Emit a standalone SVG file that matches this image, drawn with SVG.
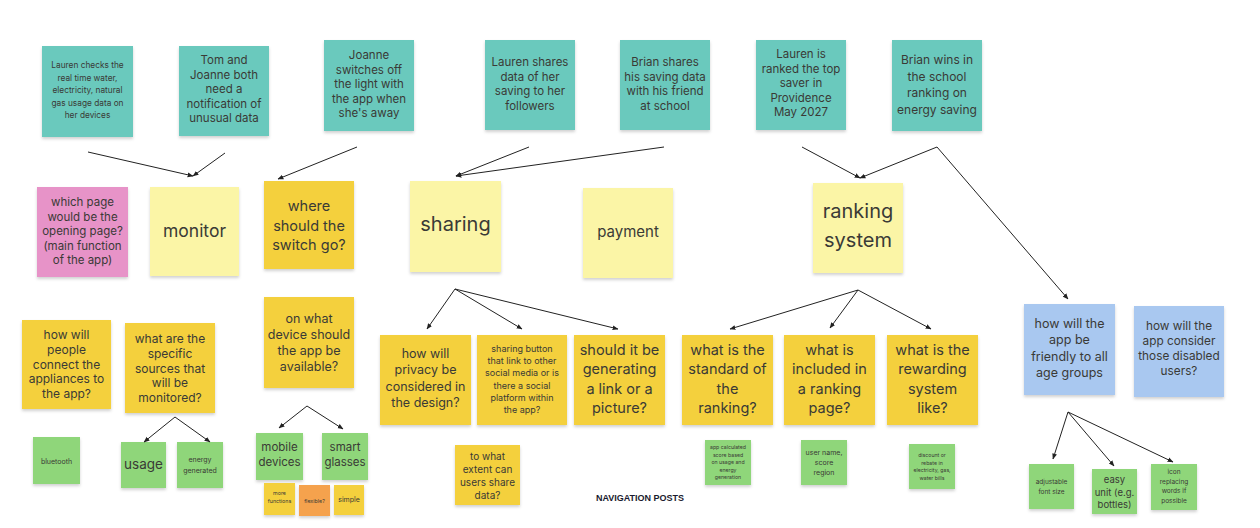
<svg xmlns="http://www.w3.org/2000/svg" width="1260" height="528" viewBox="0 0 1260 528">
<defs>
<marker id="ah" viewBox="0 0 10 10" refX="9" refY="5" markerWidth="6" markerHeight="6" orient="auto" markerUnits="userSpaceOnUse">
<path d="M0,1 L10,5 L0,9 z" fill="#222"/>
</marker>
<filter id="sh" x="-10%" y="-10%" width="120%" height="125%">
<feDropShadow dx="0" dy="2" stdDeviation="1.5" flood-color="#000" flood-opacity="0.18"/>
</filter>
</defs>
<style>
text{font-family:Inter,"Open Sans","Liberation Sans",sans-serif;fill:#3a3a36;text-anchor:middle;dominant-baseline:central}
.n{filter:url(#sh)}
.teal{fill:#6bc9bd}
.pink{fill:#e793c8}
.pale{fill:#fbf5a6}
.yel{fill:#f4d03c}
.grn{fill:#8fd67a}
.blu{fill:#a9c8f0}
.org{fill:#f5a24e}
.c line{stroke:#222;stroke-width:1;fill:none;marker-end:url(#ah)}
</style>
<rect width="1260" height="528" fill="#fff"/>

<g id="n1"><rect class="n teal" x="42" y="46" width="91" height="91"/>
<text font-size="8.3"><tspan x="87.5" y="65">Lauren checks the</tspan><tspan x="87.5" y="78">real time water,</tspan><tspan x="87.5" y="90">electricity, natural</tspan><tspan x="87.5" y="103">gas usage data on</tspan><tspan x="87.5" y="115">her devices</tspan></text></g>
<g id="n2"><rect class="n teal" x="179" y="46" width="90" height="90"/>
<text font-size="11.5"><tspan x="224" y="60">Tom and</tspan><tspan x="224" y="74.5">Joanne both</tspan><tspan x="224" y="89">need a</tspan><tspan x="224" y="103.5">notification of</tspan><tspan x="224" y="118">unusual data</tspan></text></g>
<g id="n3"><rect class="n teal" x="324" y="40" width="90" height="91"/>
<text font-size="11.5"><tspan x="369" y="55">Joanne</tspan><tspan x="369" y="69.5">switches off</tspan><tspan x="369" y="84">the light with</tspan><tspan x="369" y="98.5">the app when</tspan><tspan x="369" y="113">she's away</tspan></text></g>
<g id="n4"><rect class="n teal" x="485" y="40" width="90" height="90"/>
<text font-size="11.5"><tspan x="530" y="62">Lauren shares</tspan><tspan x="530" y="76.5">data of her</tspan><tspan x="530" y="91">saving to her</tspan><tspan x="530" y="105.5">followers</tspan></text></g>
<g id="n5"><rect class="n teal" x="620" y="40" width="90" height="90"/>
<text font-size="11.5"><tspan x="665" y="62">Brian  shares</tspan><tspan x="665" y="76.5">his saving data</tspan><tspan x="665" y="91">with his friend</tspan><tspan x="665" y="105.5">at school</tspan></text></g>
<g id="n6"><rect class="n teal" x="756" y="40" width="90" height="90"/>
<text font-size="11.5"><tspan x="801" y="54">Lauren is</tspan><tspan x="801" y="68.5">ranked the top</tspan><tspan x="801" y="83">saver in</tspan><tspan x="801" y="97.5">Providence</tspan><tspan x="801" y="112">May 2027</tspan></text></g>
<g id="n7"><rect class="n teal" x="892" y="40" width="90" height="91"/>
<text font-size="12"><tspan x="937" y="59">Brian wins in</tspan><tspan x="937" y="75.5">the school</tspan><tspan x="937" y="92">ranking on</tspan><tspan x="937" y="108.5">energy saving</tspan></text></g>

<g id="p1"><rect class="n pink" x="37" y="187" width="91" height="90"/>
<text font-size="11.5"><tspan x="82.5" y="202">which page</tspan><tspan x="82.5" y="216.5">would be the</tspan><tspan x="82.5" y="231">opening page?</tspan><tspan x="82.5" y="245.5">(main function</tspan><tspan x="82.5" y="260">of the app)</tspan></text></g>
<g id="monitor"><rect class="n pale" x="150" y="187" width="89" height="89"/>
<text font-size="17.5" x="194.5" y="230">monitor</text></g>
<g id="switch"><rect class="n yel" x="264" y="181" width="90" height="88"/>
<text font-size="14.5"><tspan x="309" y="205">where</tspan><tspan x="309" y="224.5">should the</tspan><tspan x="309" y="244">switch go?</tspan></text></g>
<g id="sharing"><rect class="n pale" x="410" y="181" width="91" height="91"/>
<text font-size="20" x="455.5" y="224">sharing</text></g>
<g id="payment"><rect class="n pale" x="583" y="188" width="90" height="90"/>
<text font-size="15" x="628" y="231">payment</text></g>
<g id="ranking"><rect class="n pale" x="813" y="183" width="90" height="90"/>
<text font-size="20"><tspan x="858" y="211">ranking</tspan><tspan x="858" y="240">system</tspan></text></g>

<g id="q1"><rect class="n yel" x="22" y="320" width="89" height="89"/>
<text font-size="12"><tspan x="66.5" y="334">how will</tspan><tspan x="66.5" y="348.8">people</tspan><tspan x="66.5" y="363.6">connect the</tspan><tspan x="66.5" y="378.4">appliances to</tspan><tspan x="66.5" y="393.2">the app?</tspan></text></g>
<g id="q2"><rect class="n yel" x="125" y="323" width="90" height="90"/>
<text font-size="12"><tspan x="170" y="338">what are the</tspan><tspan x="170" y="352.8">specific</tspan><tspan x="170" y="367.6">sources that</tspan><tspan x="170" y="382.4">will be</tspan><tspan x="170" y="397.2">monitored?</tspan></text></g>
<g id="q3"><rect class="n yel" x="264" y="297" width="90" height="91"/>
<text font-size="12.5"><tspan x="309" y="318">on what</tspan><tspan x="309" y="334">device should</tspan><tspan x="309" y="350">the app be</tspan><tspan x="309" y="366">available?</tspan></text></g>
<g id="q4"><rect class="n yel" x="380" y="335" width="91" height="90"/>
<text font-size="12.5"><tspan x="425.5" y="353">how will</tspan><tspan x="425.5" y="369.3">privacy be</tspan><tspan x="425.5" y="385.6">considered in</tspan><tspan x="425.5" y="402">the design?</tspan></text></g>
<g id="q5"><rect class="n yel" x="477" y="335" width="90" height="90"/>
<text font-size="9"><tspan x="522" y="348">sharing button</tspan><tspan x="522" y="360.2">that link to other</tspan><tspan x="522" y="372.4">social media or is</tspan><tspan x="522" y="384.6">there a social</tspan><tspan x="522" y="396.8">platform within</tspan><tspan x="522" y="409">the app?</tspan></text></g>
<g id="q6"><rect class="n yel" x="574" y="335" width="91" height="90"/>
<text font-size="14.5"><tspan x="619.5" y="349">should it be</tspan><tspan x="619.5" y="368.3">generating</tspan><tspan x="619.5" y="387.6">a link or a</tspan><tspan x="619.5" y="407">picture?</tspan></text></g>
<g id="q7"><rect class="n yel" x="682" y="335" width="91" height="90"/>
<text font-size="14.5"><tspan x="727.5" y="349">what is the</tspan><tspan x="727.5" y="368.3">standard of</tspan><tspan x="727.5" y="387.6">the</tspan><tspan x="727.5" y="407">ranking?</tspan></text></g>
<g id="q8"><rect class="n yel" x="784" y="335" width="91" height="90"/>
<text font-size="14.5"><tspan x="829.5" y="349">what is</tspan><tspan x="829.5" y="368.3">included in</tspan><tspan x="829.5" y="387.6">a ranking</tspan><tspan x="829.5" y="407">page?</tspan></text></g>
<g id="q9"><rect class="n yel" x="887" y="335" width="91" height="90"/>
<text font-size="14.5"><tspan x="932.5" y="349">what is the</tspan><tspan x="932.5" y="368.3">rewarding</tspan><tspan x="932.5" y="387.6">system</tspan><tspan x="932.5" y="407">like?</tspan></text></g>
<g id="b1"><rect class="n blu" x="1024" y="304" width="91" height="91"/>
<text font-size="12.5"><tspan x="1069.5" y="323">how will the</tspan><tspan x="1069.5" y="339.3">app be</tspan><tspan x="1069.5" y="355.6">friendly to all</tspan><tspan x="1069.5" y="372">age groups</tspan></text></g>
<g id="b2"><rect class="n blu" x="1134" y="306" width="90" height="91"/>
<text font-size="11.8"><tspan x="1179" y="326">how will the</tspan><tspan x="1179" y="341">app consider</tspan><tspan x="1179" y="356">those disabled</tspan><tspan x="1179" y="371">users?</tspan></text></g>

<g id="g1"><rect class="n grn" x="33" y="437" width="47" height="47"/>
<text font-size="7" x="56.5" y="461">bluetooth</text></g>
<g id="g2"><rect class="n grn" x="121" y="442" width="45" height="46"/>
<text font-size="13.5" x="143.5" y="464">usage</text></g>
<g id="g3"><rect class="n grn" x="177" y="442" width="46" height="46"/>
<text font-size="7"><tspan x="200" y="459">energy</tspan><tspan x="200" y="470">generated</tspan></text></g>
<g id="g4"><rect class="n grn" x="256" y="433" width="47" height="47"/>
<text font-size="11.5"><tspan x="279.5" y="447">mobile</tspan><tspan x="279.5" y="462">devices</tspan></text></g>
<g id="g5"><rect class="n grn" x="322" y="433" width="46" height="47"/>
<text font-size="11.5"><tspan x="345" y="447">smart</tspan><tspan x="345" y="462">glasses</tspan></text></g>
<g id="s1"><rect class="n yel" x="264" y="483" width="31" height="32"/>
<text font-size="5.3"><tspan x="279.5" y="493">more</tspan><tspan x="279.5" y="501">functions</tspan></text></g>
<g id="s2"><rect class="n org" x="299" y="485" width="31" height="31"/>
<text font-size="5.3" x="314.5" y="501">flexible?</text></g>
<g id="s3"><rect class="n yel" x="334" y="485" width="30" height="30"/>
<text font-size="7" x="349" y="499">simple</text></g>
<g id="y1"><rect class="n yel" x="455" y="445" width="65" height="60"/>
<text font-size="10"><tspan x="487.5" y="456">to what</tspan><tspan x="487.5" y="469">extent can</tspan><tspan x="487.5" y="482">users share</tspan><tspan x="487.5" y="495">data?</tspan></text></g>
<g id="g6"><rect class="n grn" x="705" y="440" width="46" height="45"/>
<text font-size="5.2"><tspan x="728" y="447">app calculated</tspan><tspan x="728" y="454.5">score based</tspan><tspan x="728" y="462">on usage and</tspan><tspan x="728" y="469.5">energy</tspan><tspan x="728" y="477">generation</tspan></text></g>
<g id="g7"><rect class="n grn" x="801" y="440" width="46" height="45"/>
<text font-size="7"><tspan x="824" y="452">user name,</tspan><tspan x="824" y="462">score</tspan><tspan x="824" y="472">region</tspan></text></g>
<g id="g8"><rect class="n grn" x="909" y="444" width="46" height="45"/>
<text font-size="5.2"><tspan x="932" y="455">discount or</tspan><tspan x="932" y="462.5">rebate in</tspan><tspan x="932" y="470">electricity, gas,</tspan><tspan x="932" y="477.5">water bills</tspan></text></g>
<g id="g9"><rect class="n grn" x="1029" y="464" width="45" height="45"/>
<text font-size="6.5"><tspan x="1051.5" y="482">adjustable</tspan><tspan x="1051.5" y="492">font size</tspan></text></g>
<g id="g10"><rect class="n grn" x="1092" y="469" width="45" height="45"/>
<text font-size="9.5"><tspan x="1114.5" y="479">easy</tspan><tspan x="1114.5" y="491.5">unit (e.g.</tspan><tspan x="1114.5" y="504">bottles)</tspan></text></g>
<g id="g11"><rect class="n grn" x="1151" y="464" width="46" height="46"/>
<text font-size="6.5"><tspan x="1174" y="472">icon</tspan><tspan x="1174" y="481.7">replacing</tspan><tspan x="1174" y="491.4">words if</tspan><tspan x="1174" y="501">possible</tspan></text></g>

<text id="title" x="640" y="498" font-size="9" font-weight="bold" style="font-family:'Liberation Sans',Arial,sans-serif;fill:#1a1a2e">NAVIGATION POSTS</text>

<g id="connectors" class="c">
<line x1="88" y1="152" x2="193" y2="176"/>
<line x1="225" y1="153" x2="193" y2="176"/>
<line x1="357" y1="147" x2="278" y2="179"/>
<line x1="529" y1="147" x2="456" y2="176"/>
<line x1="664" y1="147" x2="456" y2="176"/>
<line x1="802" y1="147" x2="860" y2="178"/>
<line x1="937" y1="147" x2="860" y2="178"/>
<line x1="937" y1="147" x2="1068" y2="299"/>
<line x1="455" y1="289" x2="427" y2="329"/>
<line x1="455" y1="289" x2="522" y2="329"/>
<line x1="455" y1="289" x2="618" y2="329"/>
<line x1="858" y1="290" x2="730" y2="329"/>
<line x1="858" y1="290" x2="830" y2="328"/>
<line x1="858" y1="290" x2="931" y2="329"/>
<line x1="175" y1="417" x2="144" y2="442"/>
<line x1="175" y1="417" x2="210" y2="442"/>
<line x1="307" y1="406" x2="279" y2="428"/>
<line x1="307" y1="406" x2="343" y2="429"/>
<line x1="1068" y1="412" x2="1053" y2="459"/>
<line x1="1068" y1="412" x2="1114" y2="466"/>
<line x1="1068" y1="412" x2="1173" y2="462"/>
</g>
</svg>
